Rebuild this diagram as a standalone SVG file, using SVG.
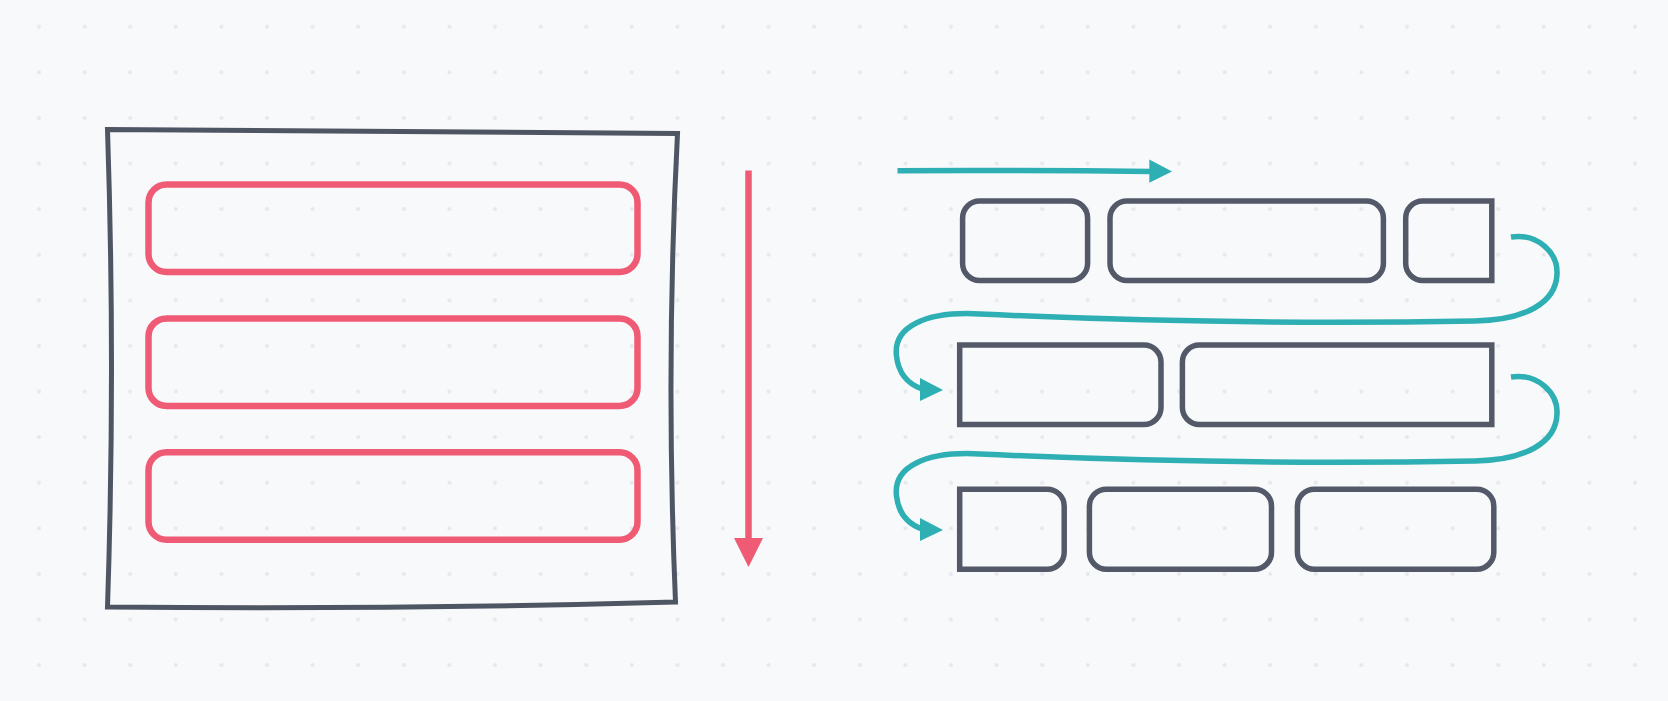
<svg xmlns="http://www.w3.org/2000/svg" width="1668" height="701" viewBox="0 0 1668 701">
  <defs>
    <pattern id="dots" patternUnits="userSpaceOnUse" x="16.2" y="3.9" width="45.6" height="45.6">
      <circle cx="22.8" cy="22.8" r="2" fill="#e7e8ec"/>
    </pattern>
    <style>
      .frame { fill: none; stroke: #4f5663; stroke-width: 5; stroke-linejoin: miter; }
      .item { fill: none; stroke: #ef5a75; stroke-width: 6.5; }
      .box { fill: none; stroke: #535968; stroke-width: 5.5; }
      .flow { fill: none; stroke: #2dafb3; stroke-width: 5.5; stroke-linecap: butt; }
      .flowhead { fill: #2dafb3; }
      .redline { fill: none; stroke: #ef5a75; stroke-width: 6.5; }
      .redhead { fill: #ef5a75; }
    </style>
  </defs>
  <rect width="1668" height="701" fill="#f8f9fb"/>
  <rect width="1668" height="701" fill="url(#dots)"/>

  <g id="block-container">
    <path class="frame" d="M 107.5 129.5 L 677.5 133.5 Q 665.5 367 675.5 602 Q 392 610 107.5 607 Q 115.5 368 107.5 129.5 Z"/>
  </g>
  <g id="block-item-1"><rect class="item" x="148.5" y="184.5" width="489" height="87.5" rx="18"/></g>
  <g id="block-item-2"><rect class="item" x="148.5" y="318.4" width="489" height="87.5" rx="18"/></g>
  <g id="block-item-3"><rect class="item" x="148.5" y="452.3" width="489" height="87.5" rx="18"/></g>

  <g id="inline-a"><rect class="box" x="962.6" y="201" width="125" height="79.5" rx="17"/></g>
  <g id="inline-b"><rect class="box" x="1110" y="201" width="273.4" height="79.5" rx="17"/></g>
  <g id="inline-c"><path class="box" d="M 1422.7 201 H 1491.8 V 280.5 H 1422.7 A 17 17 0 0 1 1405.7 263.5 V 218 A 17 17 0 0 1 1422.7 201 Z"/></g>
  <g id="inline-d"><path class="box" d="M 959.7 345 H 1144 A 17 17 0 0 1 1161 362 V 407.5 A 17 17 0 0 1 1144 424.5 H 959.7 Z"/></g>
  <g id="inline-e"><path class="box" d="M 1199.4 345 H 1491.8 V 424.5 H 1199.4 A 17 17 0 0 1 1182.4 407.5 V 362 A 17 17 0 0 1 1199.4 345 Z"/></g>
  <g id="inline-f"><path class="box" d="M 959.7 489.2 H 1047.2 A 17 17 0 0 1 1064.2 506.2 V 552.2 A 17 17 0 0 1 1047.2 569.2 H 959.7 Z"/></g>
  <g id="inline-g"><rect class="box" x="1089.4" y="489.2" width="182.1" height="80" rx="17"/></g>
  <g id="inline-h"><rect class="box" x="1297.4" y="489.2" width="196.4" height="80" rx="17"/></g>

  <g id="connectors">
    <path class="redline" d="M 748.5 170.5 V 540"/>
    <polygon class="redhead" points="734,538 763,538 748.5,567"/>

    <path class="flow" d="M 897.5 170.7 Q 1030 170.2 1151 171.5"/>
    <polygon class="flowhead" points="1149.3,159.5 1172,171.6 1149.3,182.7"/>

    <path class="flow" d="M 1511 237 C 1538 233 1558 253 1557 274 C 1556 303 1525 320 1475 321 C 1300 324 1150 322 980 314 C 925 311 893 327 896.5 356 C 898.5 374 908 384 922 389"/>
    <polygon class="flowhead" points="920,378 943,390 920,401"/>

    <path class="flow" d="M 1511 377 C 1538 373 1558 393 1557 414 C 1556 443 1525 460 1475 461 C 1300 464 1150 462 980 454 C 925 451 893 467 896.5 496 C 898.5 514 908 524 922 529"/>
    <polygon class="flowhead" points="920,518 943,530 920,541"/>
  </g>
</svg>
